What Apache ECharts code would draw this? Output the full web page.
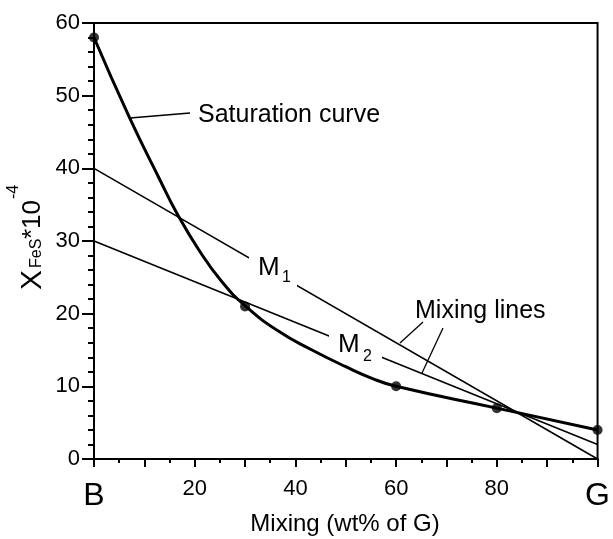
<!DOCTYPE html>
<html>
<head>
<meta charset="utf-8">
<script src="https://cdn.jsdelivr.net/npm/echarts@6/dist/echarts.min.js"></script>
<style>html,body{margin:0;padding:0;background:#fff}#c{width:613px;height:539px}</style>
</head>
<body>
<div id="c"></div>
<script>
// Saturation curve
const curveX = [0, 7.1, 13.1, 16.4, 20.8, 25.4, 30, 36.6, 43.3, 50, 55.2, 60, 80, 100];
const curveY = [58, 46.9, 38.4, 33.9, 28.8, 24.4, 21.1, 17.6, 15.0, 12.7, 11.1, 10, 7, 4];
// Measured points
const pointX = [0, 30, 60, 80, 100];
const pointY = [58, 21, 10, 7, 4];
// Mixing lines endpoints
const m1X = [0, 100];
const m1Y = [40, 0];
const m2X = [0, 100];
const m2Y = [30, 2];
// Tick labels
const xEndLabels = {0: 'B', 100: 'G'};

const FONT = "'Liberation Sans', Arial, Helvetica, sans-serif";
const zip = (a, b) => a.map((v, i) => [v, b[i]]);

const chart = echarts.init(document.getElementById('c'));
chart.setOption({
  animation: false,
  backgroundColor: '#fff',
  textStyle: {fontFamily: FONT, color: '#000'},
  grid: {left: 94, right: 13.5, top: 23, bottom: 80, show: true, borderColor: '#000', borderWidth: 2, backgroundColor: 'transparent'},
  xAxis: {
    type: 'value', min: 0, max: 100, interval: 10,
    axisLine: {lineStyle: {color: '#000', width: 2}},
    axisTick: {length: 8, lineStyle: {color: '#000', width: 2}},
    minorTick: {show: true, splitNumber: 2, length: 4, lineStyle: {color: '#000', width: 2}},
    splitLine: {show: false},
    axisLabel: {
      margin: 19, fontSize: 22, color: '#000', fontFamily: FONT,
      formatter: v => (xEndLabels[v] !== undefined ? '{b|' + xEndLabels[v] + '}' : (v % 20 === 0 ? String(v) : '')),
      rich: {b: {fontSize: 32, fontFamily: FONT, color: '#000', padding: [2, 0, 0, 0]}}
    }
  },
  yAxis: {
    type: 'value', min: 0, max: 60, interval: 10,
    axisLine: {lineStyle: {color: '#000', width: 2}},
    axisTick: {length: 12, lineStyle: {color: '#000', width: 2}},
    minorTick: {show: true, splitNumber: 5, length: 6, lineStyle: {color: '#000', width: 2}},
    splitLine: {show: false},
    axisLabel: {margin: 14, fontSize: 22, color: '#000', fontFamily: FONT}
  },
  series: [
    {type: 'line', data: zip(m2X, m2Y), symbol: 'none', z: 2, lineStyle: {color: '#000', width: 1.6}},
    {type: 'line', data: zip(m1X, m1Y), symbol: 'none', z: 4, lineStyle: {color: '#000', width: 1.6}},
    {type: 'line', data: zip(curveX, curveY), symbol: 'none', smooth: 0.5, z: 6, lineStyle: {color: '#000', width: 3}},
    {type: 'scatter', data: zip(pointX, pointY), symbolSize: 10, z: 8, clip: false, itemStyle: {color: '#000'}}
  ],
  graphic: [
    // white gaps behind M labels
    {type: 'rect', z: 3, shape: {x: 329, y: 334, width: 53, height: 30}, style: {fill: '#fff'}},
    {type: 'rect', z: 5, shape: {x: 249, y: 254, width: 48, height: 35}, style: {fill: '#fff'}},
    // leader lines
    {type: 'line', z: 7, shape: {x1: 130, y1: 118, x2: 190, y2: 113}, style: {stroke: '#000', lineWidth: 1.3}},
    {type: 'line', z: 7, shape: {x1: 423, y1: 322, x2: 400, y2: 343}, style: {stroke: '#000', lineWidth: 1.3}},
    {type: 'line', z: 7, shape: {x1: 443, y1: 328, x2: 422, y2: 373}, style: {stroke: '#000', lineWidth: 1.3}},
    // annotation texts
    {type: 'text', z: 7, x: 198, y: 115, style: {text: 'Saturation curve', fontSize: 25, fontFamily: FONT, fill: '#000', verticalAlign: 'middle', align: 'left'}},
    {type: 'text', z: 7, x: 415, y: 311, style: {text: 'Mixing lines', fontSize: 25, fontFamily: FONT, fill: '#000', verticalAlign: 'middle', align: 'left'}},
    {type: 'text', z: 7, x: 258, y: 268, style: {text: 'M', fontSize: 26, fontFamily: FONT, fill: '#000', verticalAlign: 'middle', align: 'left'}},
    {type: 'text', z: 7, x: 282, y: 278, style: {text: '1', fontSize: 16, fontFamily: FONT, fill: '#000', verticalAlign: 'middle', align: 'left'}},
    {type: 'text', z: 7, x: 338, y: 345, style: {text: 'M', fontSize: 26, fontFamily: FONT, fill: '#000', verticalAlign: 'middle', align: 'left'}},
    {type: 'text', z: 7, x: 363, y: 357, style: {text: '2', fontSize: 16, fontFamily: FONT, fill: '#000', verticalAlign: 'middle', align: 'left'}},
    // x axis title
    {type: 'text', z: 7, x: 345, y: 524, style: {text: 'Mixing (wt% of G)', fontSize: 24, fontFamily: FONT, fill: '#000', verticalAlign: 'middle', align: 'center'}},
    // y axis title (rotated)
    {type: 'group', x: 43, y: 290, rotation: Math.PI / 2, children: [
      {type: 'text', z: 7, x: 0, y: -10.5, style: {text: 'X', fontSize: 30, fontFamily: FONT, fill: '#000', verticalAlign: 'middle', align: 'left'}},
      {type: 'text', z: 7, x: 22, y: -6.5, style: {text: 'FeS', fontSize: 16, fontFamily: FONT, fill: '#000', verticalAlign: 'middle', align: 'left'}},
      {type: 'text', z: 7, x: 51, y: -10, style: {text: '*10', fontSize: 26, fontFamily: FONT, fill: '#000', verticalAlign: 'middle', align: 'left'}},
      {type: 'text', z: 7, x: 91, y: -29, style: {text: '-4', fontSize: 16, fontFamily: FONT, fill: '#000', verticalAlign: 'middle', align: 'left'}}
    ]}
  ]
});
</script>
</body>
</html>
